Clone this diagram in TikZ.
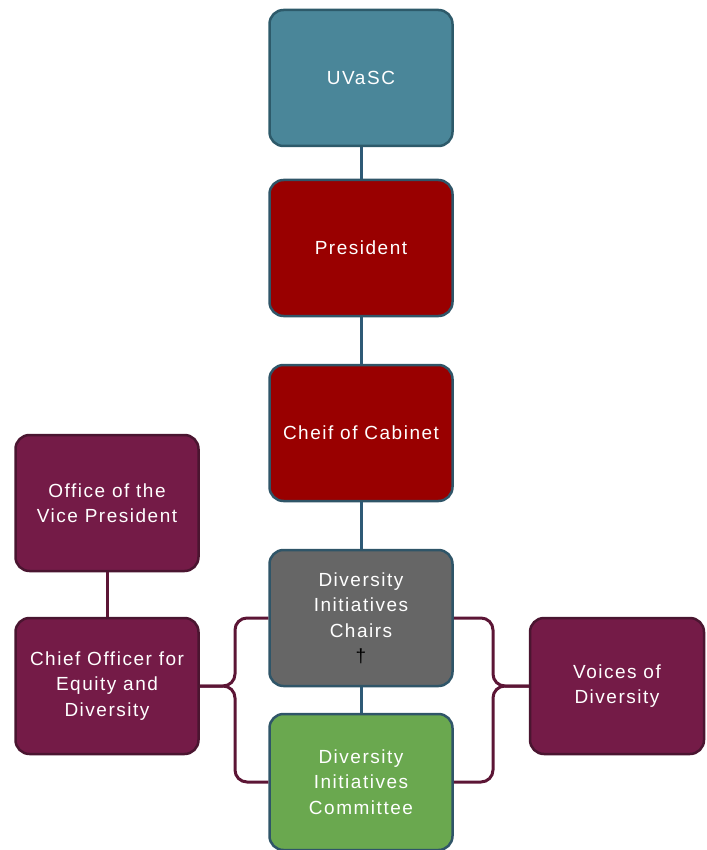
\documentclass[tikz,border=0pt]{standalone}
\usepackage{fontspec}
\setmainfont[LetterSpace=8]{Liberation Sans}
\definecolor{cUva}{HTML}{4A8699}
\definecolor{cUvaB}{HTML}{2D5A6A}
\definecolor{cRed}{HTML}{990000}
\definecolor{cGray}{HTML}{666666}
\definecolor{cGreen}{HTML}{6AA84F}
\definecolor{cMaroon}{HTML}{741B47}
\definecolor{cMaroonB}{HTML}{4A1530}
\definecolor{cBlueB}{HTML}{2F5568}
\definecolor{cVline}{HTML}{2E5A76}
\definecolor{cMline}{HTML}{5C1535}
\begin{document}
\begin{tikzpicture}[x=1pt,y=-1pt,
  box/.style={draw=cBlueB, line width=2.5pt, rounded corners=14pt,
    minimum width=183pt, minimum height=136pt, text=white, align=center,
    font=\fontsize{19}{25.5}\selectfont, inner sep=0pt},
  vline/.style={draw=cVline, line width=3pt},
  mline/.style={draw=cMline, line width=3pt, rounded corners=12pt}]
\useasboundingbox (0,0) rectangle (706,850);
\node[box, fill=cUva, draw=cUvaB] (uva) at (361,78) {UVaSC};
\node[box, fill=cRed] (pres) at (361,248) {President};
\node[box, fill=cRed] (cab) at (361,433) {Cheif of Cabinet};
\node[box, fill=cGray] (chairs) at (361,618) {Diversity\\Initiatives\\Chairs\\\textcolor{black}{†}};
\node[box, fill=cGreen] (comm) at (361,782) {Diversity\\Initiatives\\Committee};
\node[box, fill=cMaroon, draw=cMaroonB] (ovp) at (107,503) {Office of the\\Vice President};
\node[box, fill=cMaroon, draw=cMaroonB] (chief) at (107,686) {Chief Officer for\\Equity and\\Diversity};
\node[box, fill=cMaroon, draw=cMaroonB, minimum width=174pt] (voices) at (617,686) {Voices of\\Diversity};
\coordinate (lj) at (235,686);
\coordinate (rj) at (493,686);
\draw[vline] (uva) -- (pres);
\draw[vline] (pres) -- (cab);
\draw[vline] (cab) -- (chairs);
\draw[vline] (chairs) -- (comm);
\draw[mline] (ovp) -- (chief);
\draw[mline] (chairs.west) -| (lj) -- (chief.east);
\draw[mline] (comm.west) -| (lj) -- (chief.east);
\draw[mline] (chairs.east) -| (rj) -- (voices.west);
\draw[mline] (comm.east) -| (rj) -- (voices.west);
\end{tikzpicture}
\end{document}
